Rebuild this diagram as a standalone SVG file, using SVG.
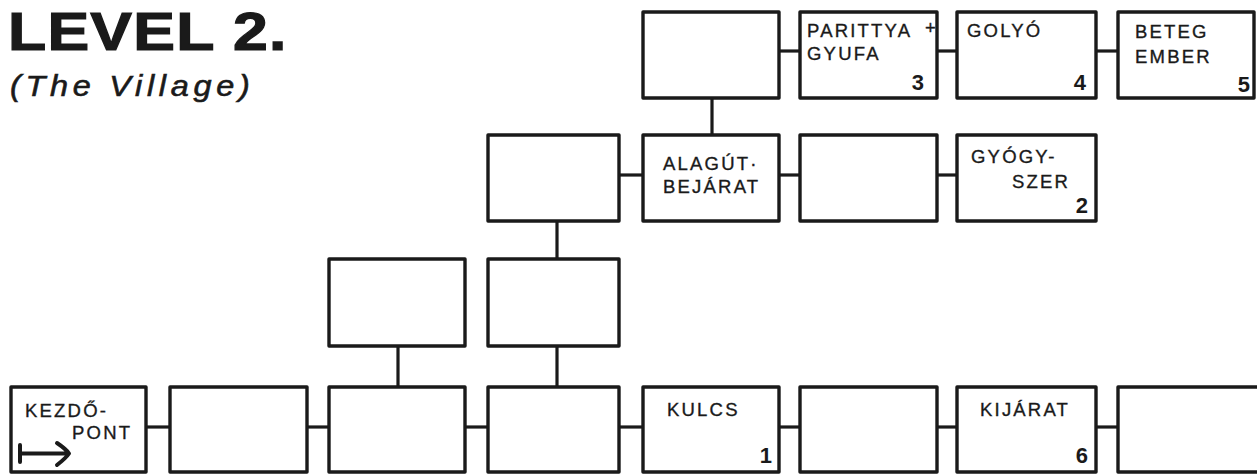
<svg xmlns="http://www.w3.org/2000/svg" width="1257" height="475" viewBox="0 0 1257 475">
<style>
.box{fill:#fff;stroke:#1a1a1a;stroke-width:3.4;stroke-linejoin:round}
.con line{stroke:#1a1a1a;stroke-width:3.2}
.lbl{font-family:"Liberation Sans",Arial,sans-serif;font-size:18.5px;letter-spacing:2.2px;fill:#1a1a1a;stroke:#1a1a1a;stroke-width:0.35}
.num{font-family:"Liberation Sans",Arial,sans-serif;font-size:22px;font-weight:bold;fill:#1a1a1a;text-anchor:end}
.title{font-family:"Liberation Sans",Arial,sans-serif;fill:#1a1a1a}
</style>
<rect width="1257" height="475" fill="#fff"/>
<g id="title">
<text class="title" transform="translate(8,50) scale(1.18,1)" font-size="53" font-weight="bold" stroke="#1a1a1a" stroke-width="1.2" textLength="236" lengthAdjust="spacing">LEVEL 2.</text>
<text class="title" transform="translate(10,96) scale(1.1,1)" font-size="29.5" font-style="italic" stroke="#1a1a1a" stroke-width="0.6" textLength="218" lengthAdjust="spacing">(The Village)</text>
</g>
<g id="connectors" class="con">
<line x1="146" y1="427" x2="170" y2="427"/>
<line x1="307" y1="427" x2="329" y2="427"/>
<line x1="465" y1="427" x2="488" y2="427"/>
<line x1="619" y1="427" x2="643" y2="427"/>
<line x1="779" y1="427" x2="800" y2="427"/>
<line x1="937" y1="427" x2="957" y2="427"/>
<line x1="1096" y1="427" x2="1118" y2="427"/>
<line x1="619" y1="175" x2="643" y2="175"/>
<line x1="779" y1="175" x2="800" y2="175"/>
<line x1="937" y1="175" x2="957" y2="175"/>
<line x1="779" y1="51" x2="800" y2="51"/>
<line x1="937" y1="51" x2="957" y2="51"/>
<line x1="1096" y1="51" x2="1118" y2="51"/>
<line x1="712" y1="98" x2="712" y2="135"/>
<line x1="557" y1="221" x2="557" y2="259"/>
<line x1="557" y1="346" x2="557" y2="387"/>
<line x1="398" y1="346" x2="398" y2="387"/>
</g>
<g id="n-top-empty"><rect class="box" x="643" y="12" width="136" height="86"/></g>
<g id="n-parittya"><rect class="box" x="800" y="12" width="137" height="86"/>
<text class="lbl" x="807" y="37">PARITTYA</text><text class="lbl" x="925" y="34" font-size="11" letter-spacing="0">+</text>
<text class="lbl" x="807" y="60">GYUFA</text><text class="num" x="924" y="90">3</text></g>
<g id="n-golyo"><rect class="box" x="957" y="12" width="139" height="86"/>
<text class="lbl" x="967" y="37">GOLYÓ</text><text class="num" x="1086" y="90">4</text></g>
<g id="n-beteg"><rect class="box" x="1118" y="12" width="136" height="86"/>
<text class="lbl" x="1135" y="38">BETEG</text><text class="lbl" x="1135" y="63">EMBER</text><text class="num" x="1250" y="92">5</text></g>
<g id="n-mid-empty1"><rect class="box" x="488" y="135" width="131" height="86"/></g>
<g id="n-alagut"><rect class="box" x="643" y="135" width="136" height="86"/>
<text class="lbl" x="663" y="170">ALAGÚT·</text><text class="lbl" x="663" y="193">BEJÁRAT</text></g>
<g id="n-mid-empty2"><rect class="box" x="800" y="135" width="137" height="86"/></g>
<g id="n-gyogyszer"><rect class="box" x="957" y="135" width="139" height="86"/>
<text class="lbl" x="971" y="163">GYÓGY-</text><text class="lbl" x="1012" y="188">SZER</text><text class="num" x="1088" y="213">2</text></g>
<g id="n-r2a"><rect class="box" x="329" y="259" width="136" height="87"/></g>
<g id="n-r2b"><rect class="box" x="488" y="259" width="131" height="87"/></g>
<g id="n-kezdopont"><rect class="box" x="11" y="387" width="135" height="85"/>
<text class="lbl" x="25" y="417">KEZDŐ-</text><text class="lbl" x="72" y="439">PONT</text>
<path d="M20 445 V462 M20 453.5 H66 M57 443 Q66 449 69 453.5 Q66 458 57 465" fill="none" stroke="#1a1a1a" stroke-width="4" stroke-linecap="round" stroke-linejoin="round"/></g>
<g id="n-b1"><rect class="box" x="170" y="387" width="137" height="85"/></g>
<g id="n-b2"><rect class="box" x="329" y="387" width="136" height="85"/></g>
<g id="n-b3"><rect class="box" x="488" y="387" width="131" height="85"/></g>
<g id="n-kulcs"><rect class="box" x="643" y="387" width="136" height="85"/>
<text class="lbl" x="667" y="416">KULCS</text><text class="num" x="772" y="463">1</text></g>
<g id="n-b5"><rect class="box" x="800" y="387" width="137" height="85"/></g>
<g id="n-kijarat"><rect class="box" x="957" y="387" width="139" height="85"/>
<text class="lbl" x="980" y="416">KIJÁRAT</text><text class="num" x="1088" y="463">6</text></g>
<g id="n-b7"><rect class="box" x="1118" y="387" width="150" height="85"/></g>
</svg>
